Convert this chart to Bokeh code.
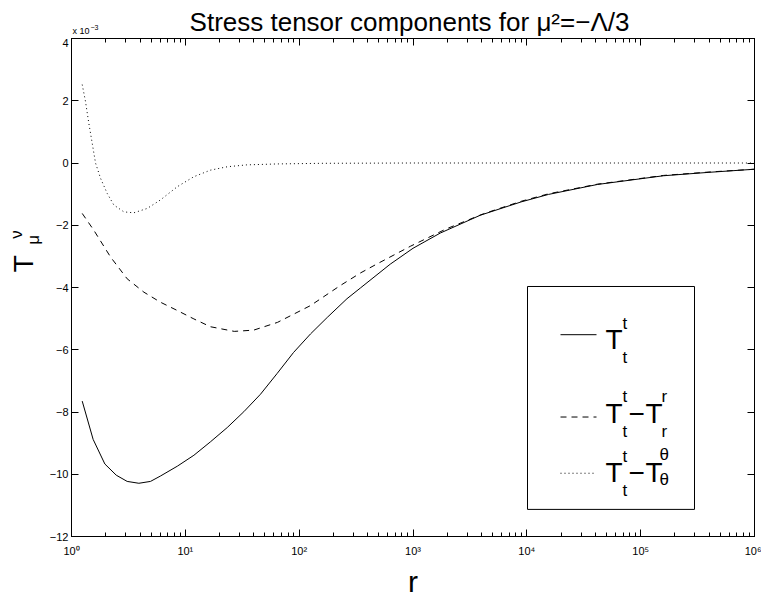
import math
from bokeh.plotting import figure
from bokeh.layouts import column, row
from bokeh.models import (LogTicker, FixedTicker, LinearAxis, LogAxis, BoxAnnotation,
                          Range1d, ColumnDataSource)
from bokeh.core.properties import value
from bokeh.embed import file_html
from bokeh.resources import INLINE

# ---------------- data (values in units of 1e-3) ----------------
r_tt = [1.242, 1.549, 1.963, 2.472, 3.083, 3.908, 4.943, 6.026, 8.511, 11.89, 16.60,
        23.33, 32.66, 45.71, 64.12, 89.13, 125.9, 176.6, 263.0, 346.7, 631.0, 1000,
        1738, 3890, 8913, 15490, 41690, 158500, 398100, 1000000]
T_tt = [-7.65, -8.88, -9.67, -10.03, -10.23, -10.29, -10.23, -10.06, -9.74, -9.39, -8.96,
        -8.50, -7.99, -7.43, -6.76, -6.09, -5.49, -4.96, -4.36, -4.01, -3.25, -2.74,
        -2.25, -1.68, -1.25, -1.01, -0.69, -0.41, -0.30, -0.20]

r_rr = [1.242, 1.570, 2.203, 3.083, 4.325, 6.026, 8.511, 11.89, 16.60, 26.92, 39.81,
        64.57, 125.9, 229.1, 346.7, 467.7, 955.0, 1950, 4169, 8913, 15490, 41690,
        158500, 398100, 1000000]
T_tt_minus_rr = [-1.62, -2.16, -3.02, -3.72, -4.15, -4.47, -4.74, -5.01, -5.26, -5.41, -5.37,
                 -5.12, -4.58, -3.94, -3.53, -3.27, -2.67, -2.12, -1.63, -1.23, -0.99, -0.68,
                 -0.40, -0.29, -0.20]

r_th = [1.242, 1.327, 1.419, 1.521, 1.626, 1.799, 2.061, 2.355, 2.884, 3.524, 4.624,
        6.026, 8.511, 11.89, 16.60, 23.44, 34.67, 64.57, 158.5, 1000, 10000, 100000, 1000000]
T_tt_minus_thth = [2.52, 1.98, 1.28, 0.63, 0.00, -0.49, -0.98, -1.35, -1.57, -1.60, -1.46,
                   -1.19, -0.76, -0.44, -0.23, -0.12, -0.06, -0.03, -0.01, 0.0, 0.0, 0.0, 0.0]

x_major = [1, 10, 100, 1000, 10000, 100000, 1000000]
x_labels = ["10⁰", "10¹", "10²", "10³", "10⁴", "10⁵", "10⁶"]
y_major = [-12, -10, -8, -6, -4, -2, 0, 2, 4]
y_labels = ["−12", "−10", "−8", "−6", "−4", "−2", "0", "2", "4"]

title_text = "Stress tensor components for μ²=−Λ/3"

# ---------------- layout (page pixels) ----------------
W, H = 761, 602
TOP_H = 38          # strip with the title
LEFT_W = 45         # strip with the y label
FL, FR, FT, FB = 71, 754, 40, 536
FONT = "Liberation Sans"
MID = 0.35          # baseline -> middle of text box, fraction of font size


def strip(w, h):
    f = figure(width=w, height=h, output_backend="svg", toolbar_location=None,
               title=None, x_axis_location=None, y_axis_location=None,
               x_range=Range1d(0, w), y_range=Range1d(0, h),
               min_border=0, min_border_left=0, min_border_right=0,
               min_border_top=0, min_border_bottom=0)
    f.grid.visible = False
    f.outline_line_color = None
    f.background_fill_color = "white"
    f.border_fill_color = "white"
    return f


def strip_text(f, items, y0, angle=0.0, align="left"):
    # items: (page x, page y of the text-box middle, text, size)
    h = f.height
    src = ColumnDataSource(dict(
        x=[a[0] for a in items], y=[h - (a[1] - y0) for a in items],
        t=[a[2] for a in items], s=[f"{a[3]}px" for a in items]))
    f.text(x="x", y="y", text="t", source=src, text_font=value(FONT), text_font_size="s",
           text_align=align, text_baseline="middle", text_color="black", angle=angle)


# top strip: title (baseline 31) and exponent note
top_strip = strip(W, TOP_H)
strip_text(top_strip, [(409, 31 - MID * 26, title_text, 26)], 0, align="center")
strip_text(top_strip, [(72, 34 - MID * 9, "x 10", 9), (90, 29 - MID * 7, "−3", 7)], 0)

# left strip: rotated y label  T^ν_μ (centres of the glyph boxes)
left_strip = strip(LEFT_W, H - TOP_H)
strip_text(left_strip, [(23, 293, "T", 28), (16, 260, "ν", 17), (33, 266, "μ", 17)],
           TOP_H, angle=math.pi / 2, align="center")

# main plot
p = figure(width=W - LEFT_W, height=H - TOP_H, x_axis_type="log", output_backend="svg",
           toolbar_location=None, title=None, x_range=Range1d(1, 1e6),
           y_range=Range1d(-12, 4),
           min_border_left=FL - LEFT_W, min_border_right=W - FR, min_border_top=0,
           min_border_bottom=H - FB)
p.grid.visible = False
p.outline_line_color = "black"
p.outline_line_width = 1
p.background_fill_color = "white"
p.border_fill_color = "white"

xt = LogTicker(mantissas=[1], desired_num_ticks=7, num_minor_ticks=10)
yt = FixedTicker(ticks=y_major)


def style(ax, labels=True):
    ax.axis_line_color = "black"
    ax.major_tick_in = 7
    ax.major_tick_out = 0
    ax.minor_tick_in = 4
    ax.minor_tick_out = 0
    ax.major_tick_line_color = "black"
    ax.minor_tick_line_color = "black"
    ax.major_label_text_font = FONT
    ax.major_label_text_color = "black"
    if not labels:
        ax.major_label_text_font_size = "1px"
        ax.major_label_text_alpha = 0.0
        ax.major_label_standoff = 0


xa = p.xaxis[0]
xa.ticker = xt
xa.major_label_overrides = {v: s for v, s in zip(x_major, x_labels)}
style(xa)
xa.major_label_text_font_size = "11px"
xa.major_label_standoff = 8
xa.axis_label = "r"
xa.axis_label_text_font = FONT
xa.axis_label_text_font_size = "30px"
xa.axis_label_text_font_style = "normal"
xa.axis_label_text_color = "black"
xa.axis_label_standoff = 5

ya = p.yaxis[0]
ya.ticker = yt
ya.major_label_overrides = {v: s for v, s in zip(y_major, y_labels)}
style(ya)
ya.minor_tick_line_color = None
ya.major_label_text_font_size = "11px"
ya.major_label_standoff = 3

top = LogAxis(ticker=xt)
style(top, labels=False)
p.add_layout(top, "above")
right = LinearAxis(ticker=yt)
style(right, labels=False)
right.minor_tick_line_color = None
p.add_layout(right, "right")

# ---------------- curves ----------------
p.line(r_tt, T_tt, line_color="black", line_width=1)
p.line(r_rr, T_tt_minus_rr, line_color="black", line_width=1, line_dash="6 5")
p.line(r_th, T_tt_minus_thth, line_color="black", line_width=1, line_dash="1 3")


# ---------------- helpers: page pixel -> data ----------------
def dx(px):
    return 10 ** ((px - FL) / (FR - FL) * 6)


def dy(py):
    return 4 - (py - FT) / (FB - FT) * 16


# legend box
p.add_layout(BoxAnnotation(left=dx(527), right=dx(694), top=dy(287), bottom=dy(509),
                           fill_alpha=0.0, line_color="black", line_alpha=1.0,
                           line_width=1, level="underlay"))

samples = [(335, None), (417, "6 5"), (473, "1 3")]
for yy, dash in samples:
    kw = dict(line_color="black", line_width=1)
    if dash:
        kw["line_dash"] = dash
    p.line([dx(560), dx(596)], [dy(yy), dy(yy)], **kw)

leg = [  # (px, baseline py, text, size)
    (605, 350, "T", 28), (622, 330, "t", 17), (622, 364, "t", 17),
    (605, 423, "T", 28), (622, 403, "t", 17), (622, 437, "t", 17),
    (628, 423, "−", 28), (645, 423, "T", 28), (661, 403, "r", 17), (661, 437, "r", 17),
    (605, 482, "T", 28), (622, 462, "t", 17), (622, 496, "t", 17),
    (628, 482, "−", 28), (645, 482, "T", 28), (659, 460, "θ", 17), (659, 485, "θ", 17),
]
src = ColumnDataSource(dict(
    x=[dx(a[0]) for a in leg], y=[dy(a[1] - MID * a[3]) for a in leg],
    t=[a[2] for a in leg], s=[f"{a[3]}px" for a in leg]))
p.text(x="x", y="y", text="t", source=src, text_font=value(FONT), text_font_size="s",
       text_align="left", text_baseline="middle", text_color="black")

layout = column(top_strip, row(left_strip, p, spacing=0), spacing=0)
open("out.html", "w").write(file_html(layout, INLINE))
